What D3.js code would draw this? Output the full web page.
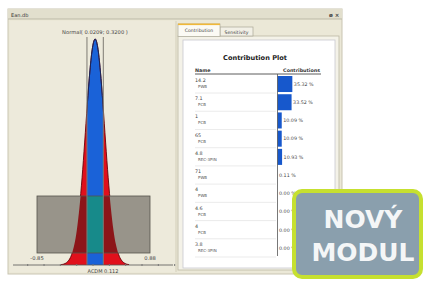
<!DOCTYPE html>
<html><head><meta charset="utf-8">
<script src="https://cdn.jsdelivr.net/npm/d3@7/dist/d3.min.js"></script>
<style>
html,body{margin:0;padding:0;background:#fff;}
svg{display:block;}
text{font-family:"DejaVu Sans",Verdana,sans-serif;}
</style></head>
<body>
<svg id="c" width="424" height="282"></svg>
<script>
// ---- data ----
const contribNames  = ["14.2","7.1","1","65","4.8","71","4","4.6","4","3.8"];
const contribTypes  = ["PWB","PCB","PCB","PCB","REC-3PIN","PWB","PWB","PCB","PCB","REC-3PIN"];
const contribValues = [35.32,33.52,10.09,10.09,10.93,0.11,0.00,0.00,0.00,0.00];
const contribLabels = ["35.32 %","33.52 %","10.09 %","10.09 %","10.93 %","0.11 %","0.00 %","0.00 %","0.00 %","0.00 %"];

const distX = [-0.48,-0.44,-0.40,-0.36,-0.32,-0.28,-0.24,-0.20,-0.16,-0.12,-0.08,-0.04,0.00,0.04,0.08,0.12,0.16,0.20,0.24,0.28,0.32,0.36,0.40,0.44,0.48,0.52,0.56];
const distY = [0.002,0.004,0.010,0.022,0.046,0.088,0.155,0.254,0.386,0.544,0.710,0.859,0.963,1.000,0.963,0.859,0.710,0.544,0.386,0.254,0.155,0.088,0.046,0.022,0.010,0.004,0.002];
const specLimits = [-0.85, 0.88];
const bandLimits = [-0.085, 0.165];
const axisTickLabels = ["-0.85","0.88"];
const minorTicks = [-1.0,-0.75,-0.5,-0.25,0,0.25,0.5,0.75,1.0,1.25];
const distTitle = "Normal( 0.0209; 0.3200 )";
const axisCenterLabel = "ACDM 0.112";

const svg = d3.select("#c");

// ---- window chrome ----
svg.append("rect").attr("x",8).attr("y",9).attr("width",334).attr("height",265).attr("fill","#ebe8d7").attr("stroke","#c9c5b2");
svg.append("rect").attr("x",8).attr("y",9).attr("width",334).attr("height",10).attr("fill","#e2dfcd");
svg.append("line").attr("x1",8).attr("x2",342).attr("y1",19).attr("y2",19).attr("stroke","#bdb9a6");
svg.append("text").attr("x",11).attr("y",16.5).attr("font-size",5).attr("fill","#333").text("Ean.db");
svg.append("text").attr("x",329).attr("y",16.5).attr("font-size",5.5).attr("font-weight","bold").attr("fill","#444").text("ø ×");
// left pane
svg.append("rect").attr("x",10).attr("y",21).attr("width",165).attr("height",251).attr("fill","#edeadb");
svg.append("line").attr("x1",176).attr("x2",176).attr("y1",21).attr("y2",272).attr("stroke","#d4d0bc");

// ---- distribution chart ----
const x = d3.scaleLinear().domain(specLimits).range([37,150]);
const y = d3.scaleLinear().domain([0,1]).range([265,39]);
const pts = distX.map((v,i)=>[v,distY[i]]);
const area = d3.area().x(d=>x(d[0])).y0(y(0)).y1(d=>y(d[1])).curve(d3.curveMonotoneX);
const line = d3.line().x(d=>x(d[0])).y(d=>y(d[1])).curve(d3.curveMonotoneX);

const defs = svg.append("defs");
const boxY0 = 196, boxY1 = 253;
defs.append("clipPath").attr("id","band").append("rect")
  .attr("x",x(bandLimits[0])).attr("width",x(bandLimits[1])-x(bandLimits[0])).attr("y",0).attr("height",282);
defs.append("clipPath").attr("id","box").append("rect")
  .attr("x",x(specLimits[0])).attr("width",x(specLimits[1])-x(specLimits[0])).attr("y",boxY0).attr("height",boxY1-boxY0);
defs.append("clipPath").attr("id","boxband").append("rect")
  .attr("x",x(bandLimits[0])).attr("width",x(bandLimits[1])-x(bandLimits[0])).attr("y",boxY0).attr("height",boxY1-boxY0);

svg.append("path").datum(pts).attr("d",area).attr("fill","#e0101c");
svg.append("path").datum(pts).attr("d",area).attr("fill","#1a62d8").attr("clip-path","url(#band)");
svg.append("path").datum(pts).attr("d",line).attr("fill","none").attr("stroke","#6a0008").attr("stroke-width",0.9);
svg.append("path").datum(pts).attr("d",line).attr("fill","none").attr("stroke","#0a2a66").attr("stroke-width",0.9).attr("clip-path","url(#band)");

// spec box
svg.append("rect").attr("x",x(specLimits[0])).attr("y",boxY0).attr("width",x(specLimits[1])-x(specLimits[0])).attr("height",boxY1-boxY0).attr("fill","#98948a");
svg.append("path").datum(pts).attr("d",area).attr("fill","#8c1519").attr("clip-path","url(#box)");
svg.append("path").datum(pts).attr("d",area).attr("fill","#178a8a").attr("clip-path","url(#boxband)");
svg.append("rect").attr("x",x(specLimits[0])).attr("y",boxY0).attr("width",x(specLimits[1])-x(specLimits[0])).attr("height",boxY1-boxY0).attr("fill","none").attr("stroke","#55534b").attr("stroke-width",0.8);

// band lines
bandLimits.forEach(b=>{
  svg.append("line").attr("x1",x(b)).attr("x2",x(b)).attr("y1",37).attr("y2",265).attr("stroke","#7d7b72").attr("stroke-width",1);
});

// axis
const axisG = svg.append("g").attr("transform","translate(0,265)");
axisG.append("line").attr("x1",13).attr("x2",173).attr("stroke","#555").attr("stroke-width",0.8);
axisG.call(g=>{
  const ax = d3.axisBottom(x).tickValues(minorTicks).tickSize(2).tickFormat("");
  g.append("g").call(ax).call(s=>s.select(".domain").remove()).selectAll("line").attr("stroke","#777").attr("transform","translate(0,-1)");
});
specLimits.forEach((v,i)=>{
  svg.append("text").attr("x",x(v)).attr("y",259.5).attr("text-anchor","middle").attr("font-size",5.2).attr("fill","#444").text(axisTickLabels[i]);
});
svg.append("text").attr("x",103).attr("y",272.5).attr("text-anchor","middle").attr("font-size",5).attr("fill","#444").text(axisCenterLabel);
svg.append("text").attr("x",95).attr("y",33.5).attr("text-anchor","middle").attr("font-size",5.2).attr("fill","#444").text(distTitle);

// ---- right pane ----
svg.append("rect").attr("x",178).attr("y",36).attr("width",161).attr("height",234).attr("fill","#f4f2e8").attr("stroke","#bcb8a4").attr("stroke-width",0.8);
// tabs
svg.append("rect").attr("x",220).attr("y",27).attr("width",33).attr("height",9).attr("fill","#f2f0e6").attr("stroke","#aaa796").attr("stroke-width",0.7);
svg.append("text").attr("x",236.5).attr("y",33.5).attr("text-anchor","middle").attr("font-size",4.6).attr("fill","#444").text("Sensitivity");
svg.append("rect").attr("x",178).attr("y",24).attr("width",42).attr("height",12.5).attr("fill","#fbfaf4").attr("stroke","#aaa796").attr("stroke-width",0.7);
svg.append("rect").attr("x",178).attr("y",23.5).attr("width",42).attr("height",1.6).attr("fill","#f0b838");
svg.append("text").attr("x",199).attr("y",31.5).attr("text-anchor","middle").attr("font-size",4.6).attr("fill","#444").text("Contribution");
// white panel
svg.append("rect").attr("x",183).attr("y",40).attr("width",152).attr("height",228).attr("fill","#fff").attr("stroke","#c8c8d0").attr("stroke-width",0.8);

svg.append("text").attr("x",255).attr("y",60).attr("text-anchor","middle").attr("font-size",6.6).attr("font-weight","bold").attr("fill","#222").text("Contribution Plot");
svg.append("text").attr("x",195).attr("y",71.5).attr("font-size",4.8).attr("font-weight","bold").attr("fill","#333").text("Name");
svg.append("text").attr("x",320).attr("y",71.5).attr("text-anchor","end").attr("font-size",4.8).attr("font-weight","bold").attr("fill","#333").text("Contributions");
svg.append("line").attr("x1",195).attr("x2",321).attr("y1",74).attr("y2",74).attr("stroke","#333").attr("stroke-width",0.8);

const rowY = d3.scaleBand().domain(d3.range(contribValues.length)).range([76,256]).paddingInner(0.12).paddingOuter(0);
const bx = d3.scaleLinear().domain([0,100]).range([277.5,319.5]);

const rows = svg.append("g").selectAll("g").data(contribValues).join("g");
rows.append("rect").attr("x",bx(0)).attr("y",(d,i)=>rowY(i)).attr("width",d=>bx(d)-bx(0)).attr("height",rowY.bandwidth()).attr("fill","#1758cc");
rows.append("text").attr("x",d=>bx(d)+1.5).attr("y",(d,i)=>rowY(i)+rowY.bandwidth()/2+1.8).attr("font-size",4.8).attr("fill","#444").text((d,i)=>contribLabels[i]);
rows.append("text").attr("x",195).attr("y",(d,i)=>rowY(i)+6).attr("font-size",4.8).attr("fill","#444").text((d,i)=>contribNames[i]);
rows.append("text").attr("x",198).attr("y",(d,i)=>rowY(i)+12).attr("font-size",4).attr("fill","#555").text((d,i)=>contribTypes[i]);
rows.append("line").attr("x1",195).attr("x2",276).attr("y1",(d,i)=>rowY(i)+rowY.bandwidth()+1).attr("y2",(d,i)=>rowY(i)+rowY.bandwidth()+1).attr("stroke","#ddd").attr("stroke-width",0.6);
svg.append("line").attr("x1",277.5).attr("x2",277.5).attr("y1",74).attr("y2",256).attr("stroke","#555").attr("stroke-width",0.8);

// ---- badge ----
svg.append("rect").attr("x",294).attr("y",191).attr("width",127).attr("height",86).attr("rx",8).attr("fill","#8a9fad").attr("stroke","#c6e030").attr("stroke-width",4);
svg.append("text").attr("x",363).attr("y",228).attr("text-anchor","middle").attr("font-family","'Liberation Sans',Arial,sans-serif").attr("font-size",25).attr("font-weight","bold").attr("fill","#f4f6f7").text("NOVÝ");
svg.append("text").attr("x",363).attr("y",261).attr("text-anchor","middle").attr("font-family","'Liberation Sans',Arial,sans-serif").attr("font-size",25).attr("font-weight","bold").attr("fill","#f4f6f7").text("MODUL");
</script>
</body></html>
